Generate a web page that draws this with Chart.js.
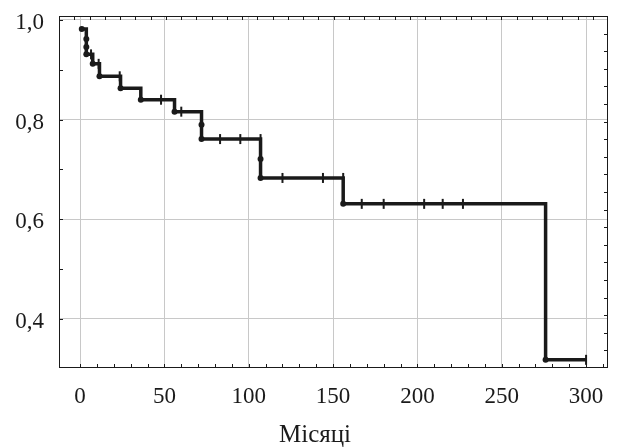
<!DOCTYPE html>
<html>
<head>
<meta charset="utf-8">
<script src="https://cdn.jsdelivr.net/npm/chart.js@4"></script>
<style>
  html, body { margin: 0; padding: 0; background: #fff; }
  #wrap { width: 617px; height: 447px; }
</style>
</head>
<body>
<div id="wrap"><canvas id="kmChart" width="617" height="447"></canvas></div>
<script>
// Крива виживання (Каплан-Мейєр): моменти подій і значення після кожного кроку
const stepTimes = [1, 3.7, 3.7, 3.7, 7.5, 11.5, 24, 36, 56, 72, 72, 107, 107, 156, 276, 300];
const stepSurvival = [0.982, 0.962, 0.946, 0.931, 0.912, 0.887, 0.863, 0.84, 0.816, 0.79, 0.761, 0.721, 0.683, 0.631, 0.318, 0.318];

// Цензуровані спостереження
const censorTimes = [6.5, 11, 23.5, 48, 60, 83, 95, 107, 120, 144, 156, 167, 180, 204, 215, 227, 300];
const censorSurvival = [0.931, 0.912, 0.887, 0.84, 0.816, 0.761, 0.761, 0.761, 0.683, 0.683, 0.683, 0.631, 0.631, 0.631, 0.631, 0.631, 0.318];

// Підписи осей
const xTickValues = [0, 50, 100, 150, 200, 250, 300];
const yTickValues = [0.4, 0.6, 0.8, 1.0];
const xTitle = 'Місяці';

const ink = '#1a1a1a';
const serif = '"Liberation Serif", "DejaVu Serif", serif';
const labelFont = { family: serif, size: 23 };

// Рамка навколо області графіка з дрібними рисками всередину + підпис осі X
const framePlugin = {
    id: 'frame',
    afterDraw(chart) {
        const { ctx, chartArea: a, scales } = chart;
        const len = 4;
        ctx.save();
        ctx.strokeStyle = ink;
        ctx.lineWidth = 1;
        ctx.strokeRect(a.left + 0.5, a.top + 0.5, a.right - a.left - 1, a.bottom - a.top - 1);
        ctx.beginPath();
        // низ: кожні 10 місяців
        for (let v = 0; v <= 310; v += 10) {
            const x = Math.round(scales.x.getPixelForValue(v)) + 0.5;
            ctx.moveTo(x, a.bottom);
            ctx.lineTo(x, a.bottom - len);
        }
        // ліворуч: кожні 0,1
        for (let v = 0.4; v <= 1.001; v += 0.1) {
            const y = Math.round(scales.y.getPixelForValue(v)) + 0.5;
            ctx.moveTo(a.left, y);
            ctx.lineTo(a.left + len, y);
        }
        // верх і праворуч: рівні поділки рамки
        const w = a.right - a.left, h = a.bottom - a.top;
        for (let i = 1; i < 36; i++) {
            const x = Math.round(a.left + w * i / 36) + 0.5;
            ctx.moveTo(x, a.top);
            ctx.lineTo(x, a.top + len);
        }
        for (let i = 1; i < 20; i++) {
            const y = Math.round(a.bottom - h * i / 20) + 0.5;
            ctx.moveTo(a.right, y);
            ctx.lineTo(a.right - len, y);
        }
        ctx.stroke();

        // назва осі X, трохи лівіше від центру області
        ctx.fillStyle = ink;
        ctx.font = '25px ' + serif;
        ctx.textAlign = 'center';
        ctx.textBaseline = 'middle';
        ctx.fillText(xTitle, 315, 435);
        ctx.restore();
    }
};

const curvePoints = stepTimes.map((t, i) => ({ x: t, y: stepSurvival[i] }));
const censorPoints = censorTimes.map((t, i) => ({ x: t, y: censorSurvival[i] }));

new Chart(document.getElementById('kmChart'), {
    type: 'scatter',
    data: {
        datasets: [
            {
                label: 'censored',
                data: censorPoints,
                showLine: false,
                pointStyle: 'line',
                rotation: 90,
                radius: 5,
                borderColor: ink,
                borderWidth: 2,
                order: 0
            },
            {
                label: 'survival',
                data: curvePoints,
                showLine: true,
                stepped: true,
                borderColor: ink,
                borderWidth: 3.5,
                pointRadius: ctx => ctx.dataIndex === stepTimes.length - 1 ? 0 : 3,
                pointBackgroundColor: ink,
                pointBorderWidth: 0,
                order: 1
            }
        ]
    },
    options: {
        responsive: false,
        animation: false,
        layout: { padding: { top: 16, right: 9, left: 0, bottom: 0 } },
        scales: {
            x: {
                type: 'linear',
                min: -12.5,
                max: 313,
                afterBuildTicks: s => { s.ticks = xTickValues.map(v => ({ value: v })); },
                afterFit: s => { s.height = 79; s.paddingLeft = 0; s.paddingRight = 0; },
                ticks: { color: ink, font: labelFont, padding: 15, maxRotation: 0 },
                grid: { color: '#c8c8c8', drawTicks: false },
                border: { display: false }
            },
            y: {
                type: 'linear',
                min: 0.3016,
                max: 1.008,
                afterBuildTicks: s => { s.ticks = yTickValues.map(v => ({ value: v })); },
                afterFit: s => { s.width = 59; s.paddingTop = 0; s.paddingBottom = 0; },
                ticks: {
                    color: ink,
                    font: labelFont,
                    padding: 15,
                    labelOffset: 3,
                    callback: v => v.toFixed(1).replace('.', ',')
                },
                grid: { color: '#c8c8c8', drawTicks: false },
                border: { display: false }
            }
        },
        plugins: {
            legend: { display: false },
            tooltip: { enabled: false }
        }
    },
    plugins: [framePlugin]
});
</script>
</body>
</html>
